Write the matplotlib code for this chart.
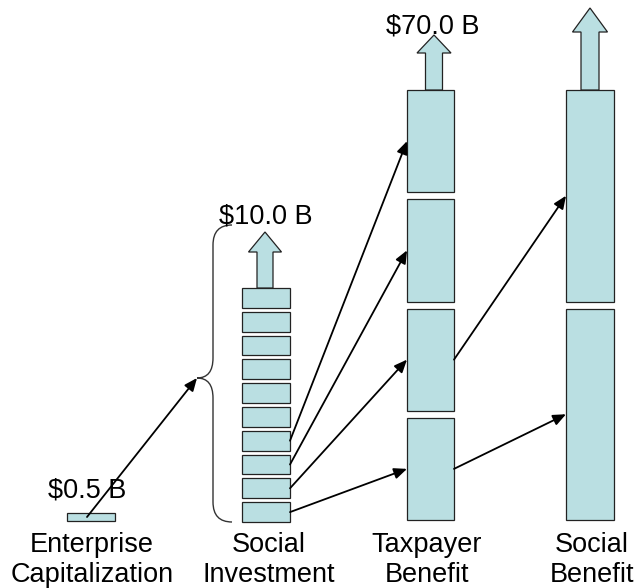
import matplotlib
matplotlib.use("Agg")
import matplotlib.pyplot as plt
from matplotlib.patches import Rectangle, FancyArrow, PathPatch
from matplotlib.path import Path

plt.rcParams['font.family'] = ['Liberation Sans', 'DejaVu Sans']

# ---- data ----
categories = ["Enterprise\nCapitalization", "Social\nInvestment", "Taxpayer\nBenefit", "Social\nBenefit"]
value_labels = ["$0.5 B", "$10.0 B", "$70.0 B", ""]
block_counts = [1, 10, 4, 2]
has_growth_arrow = [False, True, True, True]
# flows: (source column, source block) -> (target column, target block), blocks counted from bottom
flows = [((1, 0), (2, 0)), ((1, 1), (2, 1)), ((1, 2), (2, 2)), ((1, 3), (2, 3)),
         ((2, 0), (3, 0)), ((2, 1), (3, 1))]

# ---- layout (diagram units = pixels, y up from baseline) ----
col_x = [91, 266, 430.5, 590]
col_w = [48, 48, 47, 48]
col_bottom = [0, -1, 1, 1]
col_top = [8, 233, 431, 431]
col_gap = [0, 4, 7, 7]
# growth arrows: x center, tip y, head length, shaft width, head width
g_x = [None, 265, 434, 590]
g_tip = [None, 289, 486, 513]
g_head = [None, 20, 18, 24]
g_shaft = [None, 16, 17, 18]
g_headw = [None, 33, 34, 35]
label_x = [92, 269, 427, 592]
label_base = [-31, -61]
value_x = [87, 265.5, 433]
value_base = [24, 298, 487.5]

FILL = '#BADFE2'
EDGE = '#222222'
FS = 19.5

fig = plt.figure(figsize=(6.36, 5.88), dpi=100)
ax = fig.add_axes([0, 0, 1, 1])
ax.set_xlim(0, 636)
ax.set_ylim(-67, 521)
ax.axis('off')

blocks = []
for i, n in enumerate(block_counts):
    h = (col_top[i] - col_bottom[i] - (n - 1) * col_gap[i]) / n
    col_blocks = []
    for k in range(n):
        y0 = col_bottom[i] + k * (h + col_gap[i])
        x0 = col_x[i] - col_w[i] / 2
        ax.add_patch(Rectangle((x0, y0), col_w[i], h, facecolor=FILL,
                               edgecolor=EDGE, lw=0.9, zorder=2))
        col_blocks.append((x0, y0, col_w[i], h))
    blocks.append(col_blocks)
    if has_growth_arrow[i]:
        length = g_tip[i] - col_top[i]
        ax.add_patch(FancyArrow(g_x[i], col_top[i], 0, length, width=g_shaft[i],
                                head_width=g_headw[i], head_length=g_head[i],
                                length_includes_head=True, facecolor=FILL,
                                edgecolor=EDGE, lw=0.9, zorder=2))

# brace next to social investment
bx, btip_x = 213, 197
btop, bbot, bmid = 296, -1, 143
bend_x = 232
r = 20
verts = [(bend_x, btop), (bx, btop), (bx, btop - r), (bx, bmid + r),
         (bx, bmid), (btip_x, bmid), (bx, bmid), (bx, bmid - r),
         (bx, bbot + r), (bx, bbot), (bend_x, bbot)]
codes = [Path.MOVETO, Path.CURVE3, Path.CURVE3, Path.LINETO,
         Path.CURVE3, Path.CURVE3, Path.CURVE3, Path.CURVE3,
         Path.LINETO, Path.CURVE3, Path.CURVE3]
ax.add_patch(PathPatch(Path(verts, codes), facecolor='none', edgecolor='#333333', lw=1.0, zorder=3))

arrowprops = dict(arrowstyle='-|>,head_length=0.7,head_width=0.3', color='black',
                  lw=1.3, shrinkA=0, shrinkB=0, mutation_scale=11)

# enterprise -> brace
ex0, ey0, ew, eh = blocks[0][0]
ax.annotate('', xy=(btip_x, bmid), xytext=(ex0 + ew / 2 - 4, ey0 + eh / 2),
            arrowprops=arrowprops, zorder=4)

for (sc, sb), (tc, tb) in flows:
    x0, y0, w, h = blocks[sc][sb]
    X0, Y0, W, H = blocks[tc][tb]
    ax.annotate('', xy=(X0, Y0 + H / 2), xytext=(x0 + w, y0 + h / 2),
                arrowprops=arrowprops, zorder=4)

for i, lab in enumerate(value_labels):
    if lab:
        ax.text(value_x[i], value_base[i], lab, ha='center', va='baseline', fontsize=FS)

for i, cat in enumerate(categories):
    for j, line in enumerate(cat.split('\n')):
        ax.text(label_x[i], label_base[j], line, ha='center', va='baseline', fontsize=FS)

fig.savefig('out.png', dpi=100)
